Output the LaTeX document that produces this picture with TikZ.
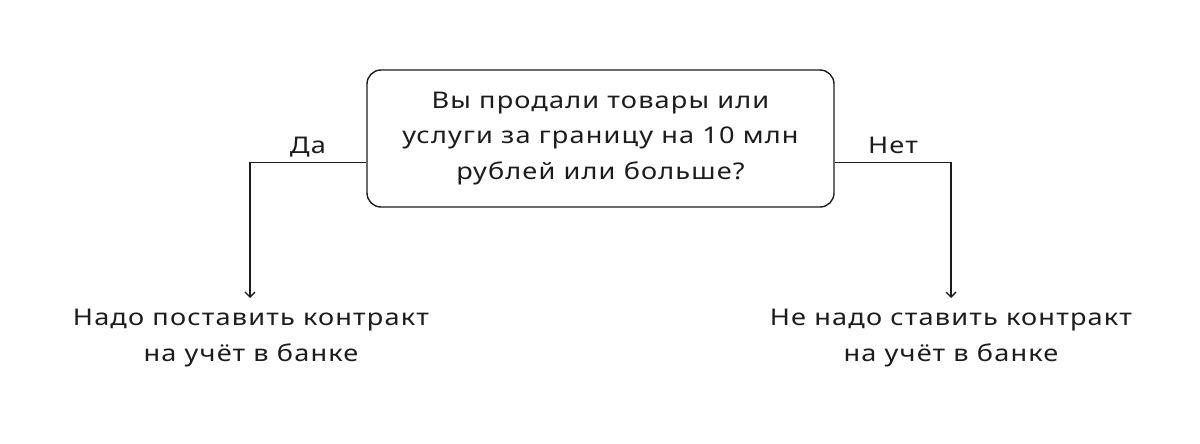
\documentclass[tikz,border=0pt]{standalone}
\usepackage{fontspec}
\setmainfont{Noto Sans}[LetterSpace=5, FakeStretch=1.18]
\usetikzlibrary{arrows.meta}
\definecolor{ink}{HTML}{1C1C1C}
\begin{document}
\begin{tikzpicture}[
  x=1pt, y=-1pt,
  every node/.style={font=\fontsize{23}{35.5}\selectfont, text=ink},
  question/.style={draw=ink, line width=1.4pt, rounded corners=14pt,
    minimum width=467pt, minimum height=137pt, align=center},
  answer/.style={align=center, inner sep=0pt, anchor=north},
  link/.style={draw=ink, line width=1.4pt, -{Straight Barb[length=5pt,width=10pt]}}]
    \useasboundingbox (0,0) rectangle (1200,444);
    % The question box
    \node[question] (q) at (600.5,138.5) {Вы продали товары или\\услуги за границу на 10 млн\\рублей или больше?};
    % Branch labels
    \node[anchor=base] (yes) at (308,153) {Да};
    \node[anchor=base] (no) at (893,153) {Нет};
    % Answers
    \node[answer] (yesans) at (251,309) {Надо поставить контракт\\на учёт в банке};
    \node[answer] (noans) at (951,309) {Не надо ставить контракт\\на учёт в банке};
    % Connectors
    \coordinate (yesturn) at (250,162.5);
    \coordinate (noturn) at (951,162.5);
    \draw[link] (q.west |- yesturn) -| ([yshift=11pt]yesans.north -| yesturn);
    \draw[link] (q.east |- noturn) -| ([yshift=11pt]noans.north -| noturn);
\end{tikzpicture}
\end{document}
